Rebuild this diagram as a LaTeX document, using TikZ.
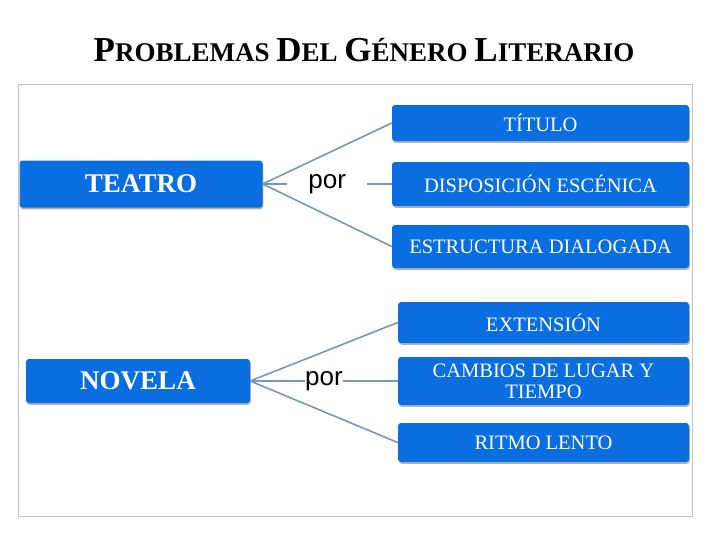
\documentclass[tikz,border=0pt]{standalone}
\usepackage{fontspec}
\setmainfont{Liberation Serif}
\newfontfamily\porfont{Liberation Sans}
\usetikzlibrary{shadows}
\definecolor{boxblue}{RGB}{10,110,225}
\definecolor{linkblue}{RGB}{120,150,185}
\definecolor{framegray}{RGB}{195,195,195}
% first letter larger, like the title font
\newcommand\tword[2]{{\fontsize{35}{35}\selectfont #1}{\fontsize{27}{27}\selectfont #2}}

\begin{document}
\begin{tikzpicture}[x=1pt,y=-1pt,
    box/.style={fill=boxblue,text=white,rounded corners=3pt,inner sep=0pt,
      drop shadow={shadow xshift=0.8pt,shadow yshift=-1.8pt,fill=black,opacity=0.3}},
    root/.style={box,font=\fontsize{27}{27}\selectfont\bfseries},
    leaf/.style={box,minimum width=297pt,align=center,font=\fontsize{20.5}{21}\selectfont},
    link/.style={draw=linkblue,line width=1.6pt},
    por/.style={fill=white,inner sep=0pt,font=\porfont\fontsize{26}{26}\selectfont}]
  \useasboundingbox (0,0) rectangle (728,546);
  \draw[framegray,line width=0.8pt] (18,84) rectangle (692,516);

  \node[anchor=base,font=\bfseries\fontsize{27}{27}\selectfont] (titulo) at (364,61)
    {\tword{P}{ROBLEMAS} \tword{D}{EL} \tword{G}{ÉNERO} \tword{L}{ITERARIO}};

  % teatro
  \node[root,minimum width=243pt,minimum height=47pt] (teatro) at (141,184) {TEATRO};
  \node[leaf,minimum height=36pt] (tit) at (540.5,123) {TÍTULO};
  \node[leaf,minimum height=44pt] (disp) at (540.5,184) {DISPOSICIÓN ESCÉNICA};
  \node[leaf,minimum height=43pt] (estr) at (540.5,246.5) {ESTRUCTURA DIALOGADA};
  \draw[link] (teatro.east) -- (disp.west)
    node[por,midway,inner xsep=21pt] (por1) {por};
  \draw[link] (teatro.east) -- (tit.west);
  \draw[link] (teatro.east) -- (estr.west);

  % novela
  \node[root,minimum width=224pt,minimum height=44pt] (novela) at (138,381) {NOVELA};
  \node[leaf,minimum width=291pt,minimum height=41pt] (ext) at (543.5,322.5) {EXTENSIÓN};
  \node[leaf,minimum width=291pt,minimum height=48pt] (camb) at (543.5,381) {CAMBIOS DE LUGAR Y\\TIEMPO};
  \node[leaf,minimum width=291pt,minimum height=39pt] (ritmo) at (543.5,442.5) {RITMO LENTO};
  \draw[link] (novela.east) -- (camb.west)
    node[por,midway] (por2) {por};
  \draw[link] (novela.east) -- (ext.west);
  \draw[link] (novela.east) -- (ritmo.west);
\end{tikzpicture}
\end{document}
